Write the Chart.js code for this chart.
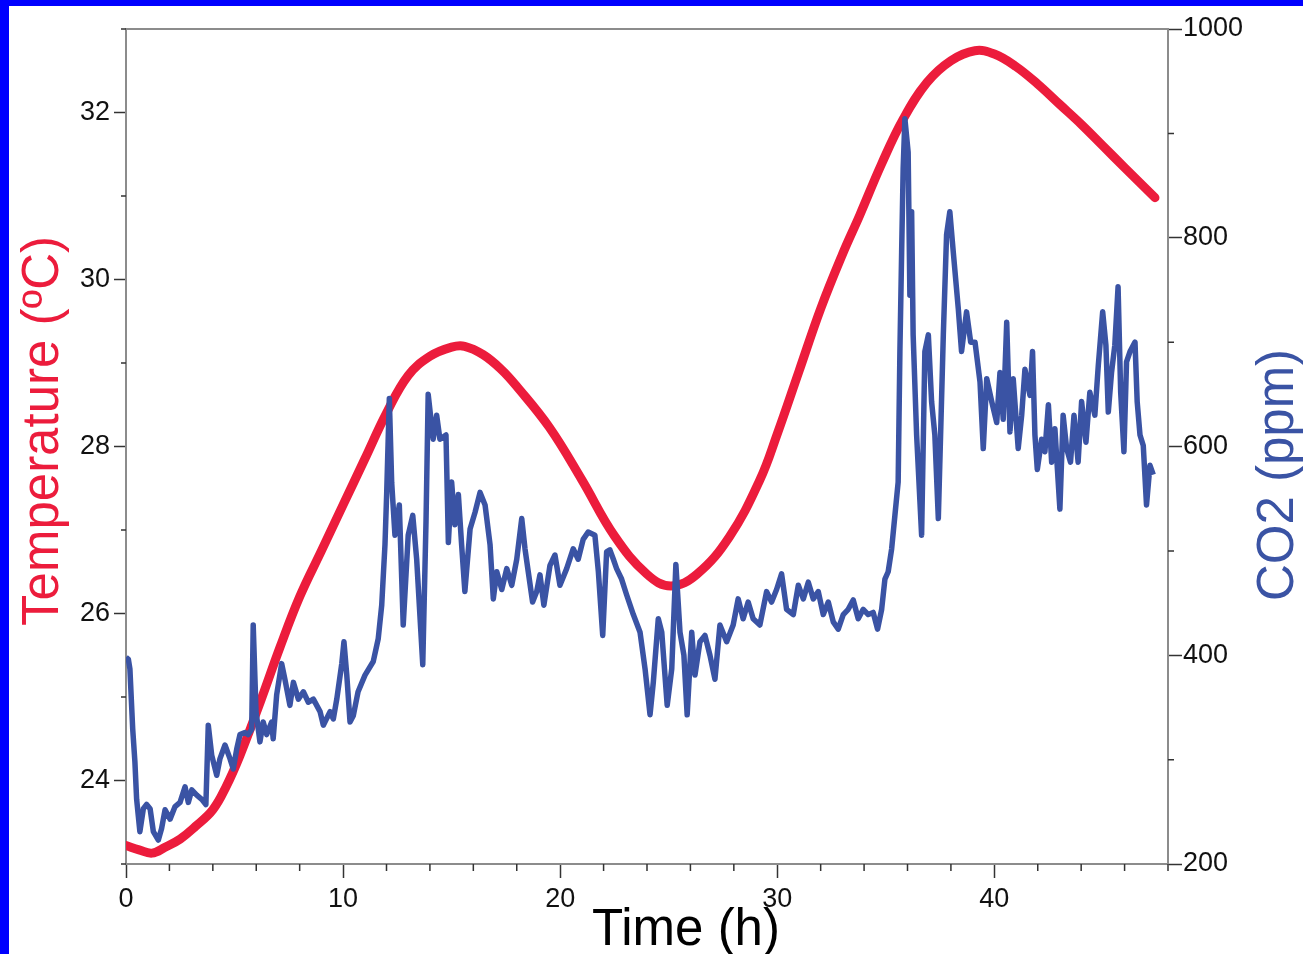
<!DOCTYPE html>
<html>
<head>
<meta charset="utf-8">
<script src="https://cdn.jsdelivr.net/npm/chart.js@4.4.0/dist/chart.umd.min.js"></script>
<style>
html, body { margin: 0; padding: 0; width: 1303px; height: 954px; overflow: hidden; background: #0000ff; }
#wrap { position: absolute; left: 9px; top: 6px; width: 1294px; height: 948px; background: #fff; }
</style>
</head>
<body>
<div id="wrap"><canvas id="chart" width="1294" height="948"></canvas></div>
<script>
// temperature curve (h, ºC)
const tempHours = [0, 0.6, 1.2, 1.8, 2.5, 3.2, 4.0, 4.6, 5.25, 6.2, 7.1, 8.0, 9.0, 10.0, 11.0, 12.0, 13.0, 14.0, 15.0,
    15.6, 16.45, 17.3, 18.0, 19.5, 21.0, 22.5, 24.0, 25.1, 26.3, 27.8, 29.2, 30.0, 31.0, 32.0, 33.0, 33.8, 34.8, 35.8,
    36.9, 38.0, 39.1, 40.0, 41.0, 42.0, 43.0, 44.0, 45.0, 46.0, 47.4];
const tempValues = [23.22, 23.17, 23.13, 23.2, 23.3, 23.45, 23.65, 23.92, 24.3, 24.95, 25.6, 26.2, 26.75, 27.3, 27.85, 28.4, 28.85, 29.08, 29.19,
    29.2, 29.1, 28.92, 28.72, 28.23, 27.6, 26.93, 26.47, 26.33, 26.47, 26.92, 27.6, 28.15, 28.9, 29.65, 30.3, 30.77, 31.38, 31.92,
    32.36, 32.62, 32.74, 32.7, 32.55, 32.34, 32.1, 31.86, 31.6, 31.34, 30.98];

// CO2 trace (h, ppm)
const co2Hours = [0, 0.11, 0.18, 0.31, 0.41, 0.49, 0.64, 0.80, 0.95, 1.11, 1.26, 1.49, 1.64, 1.80, 2.03, 2.26, 2.49, 2.72, 2.87, 3.03,
    3.26, 3.49, 3.68, 3.79, 3.95, 4.18, 4.33, 4.56, 4.79, 4.94, 5.10, 5.25, 5.48, 5.63, 5.79, 5.86, 5.99, 6.17, 6.32, 6.48,
    6.71, 6.78, 6.94, 7.17, 7.32, 7.55, 7.71, 7.94, 8.17, 8.40, 8.63, 8.94, 9.09, 9.40, 9.55, 9.71, 9.94, 10.04, 10.17, 10.32,
    10.47, 10.69, 11.01, 11.39, 11.62, 11.78, 11.93, 12.01, 12.13, 12.24, 12.39, 12.59, 12.77, 13.00, 13.21, 13.39, 13.67, 13.82, 13.92, 14.15,
    14.31, 14.46, 14.74, 14.85, 15.00, 15.15, 15.31, 15.46, 15.61, 15.85, 16.08, 16.31, 16.54, 16.77, 16.92, 17.08, 17.31, 17.54, 17.77, 18.00,
    18.23, 18.38, 18.53, 18.73, 18.92, 19.07, 19.25, 19.53, 19.76, 19.99, 20.30, 20.60, 20.83, 21.06, 21.29, 21.60, 21.76, 21.96, 22.14, 22.29,
    22.45, 22.60, 22.83, 23.06, 23.37, 23.68, 23.91, 24.14, 24.29, 24.52, 24.68, 24.93, 25.14, 25.33, 25.52, 25.70, 25.85, 26.06, 26.21, 26.44,
    26.67, 26.90, 27.13, 27.36, 27.67, 27.97, 28.20, 28.43, 28.66, 28.89, 29.20, 29.51, 29.74, 29.97, 30.20, 30.43, 30.74, 30.97, 31.20, 31.43,
    31.66, 31.89, 32.12, 32.35, 32.58, 32.81, 33.04, 33.27, 33.50, 33.73, 33.96, 34.19, 34.42, 34.62, 34.81, 34.96, 35.11, 35.27, 35.42, 35.57,
    35.65, 35.73, 35.80, 35.88, 36.03, 36.11, 36.19, 36.26, 36.42, 36.65, 36.80, 36.96, 37.11, 37.26, 37.42, 37.65, 37.80, 37.95, 38.11, 38.34,
    38.49, 38.72, 38.91, 39.11, 39.34, 39.49, 39.65, 39.88, 40.11, 40.26, 40.41, 40.57, 40.72, 40.87, 41.10, 41.26, 41.41, 41.64, 41.76, 41.87,
    41.98, 42.18, 42.33, 42.49, 42.64, 42.79, 43.02, 43.17, 43.33, 43.51, 43.67, 43.86, 44.02, 44.22, 44.40, 44.63, 44.79, 44.99, 45.14, 45.25,
    45.40, 45.55, 45.70, 45.82, 45.97, 46.09, 46.25, 46.48, 46.58, 46.71, 46.86, 47.01, 47.17, 47.32];
const co2Values = [398, 396, 387, 329, 298, 262, 231, 253, 257, 253, 231, 223, 234, 252, 243, 255, 259, 274, 259, 271,
    266, 262, 257, 333, 304, 285, 301, 314, 301, 291, 310, 324, 326, 324, 329, 429, 346, 317, 336, 324,
    336, 320, 362, 392, 377, 352, 374, 358, 365, 355, 358, 346, 333, 346, 339, 358, 392, 413, 381, 336,
    342, 365, 381, 394, 416, 448, 506, 556, 646, 565, 515, 544, 429, 515, 534, 492, 391, 528, 650, 607,
    630, 607, 611, 508, 566, 525, 554, 506, 461, 521, 537, 556, 544, 506, 454, 480, 463, 483, 467, 492,
    531, 502, 480, 451, 461, 477, 448, 486, 496, 467, 483, 502, 492, 511, 518, 515, 480, 419, 499, 501,
    492, 483, 473, 458, 439, 422, 387, 343, 374, 435, 422, 352, 387, 487, 422, 400, 343, 422, 381, 413,
    419, 400, 377, 429, 413, 429, 454, 435, 451, 435, 429, 461, 451, 463, 478, 444, 439, 467, 454, 470,
    454, 461, 439, 451, 432, 425, 439, 444, 453, 435, 444, 439, 441, 425, 444, 473, 480, 502, 534, 566,
    691, 786, 866, 914, 882, 745, 825, 707, 611, 515, 691, 707, 643, 611, 531, 707, 803, 825, 786, 732,
    691, 729, 700, 700, 662, 598, 665, 643, 623, 671, 626, 719, 614, 665, 598, 630, 674, 649, 691, 611,
    578, 607, 595, 640, 585, 617, 540, 630, 598, 585, 630, 585, 643, 604, 652, 630, 678, 729, 697, 633,
    671, 697, 753, 652, 595, 681, 691, 700, 643, 611, 601, 544, 582, 573];

// labelled ticks
const timeLabels = [0, 10, 20, 30, 40];
const tempLabels = [24, 26, 28, 30, 32];
const co2Labels = [200, 400, 600, 800, 1000];

const RED = '#ec1c3c';
const BLUE = '#3a53a4';
const AXIS = '#8c8c8c';
const TICK = '#333';
const FONT = "'Liberation Sans', Arial, sans-serif";

function toPoints(xs, ys) {
    return xs.map((x, i) => ({ x: x, y: ys[i] }));
}

// short ticks for the unlabelled values, top frame line, axis titles
const extras = {
    id: 'extras',
    afterDraw(chart) {
        const ctx = chart.ctx;
        const area = chart.chartArea;
        const sx = chart.scales.x, yl = chart.scales.yTemp, yr = chart.scales.yCo2;
        ctx.save();
        ctx.strokeStyle = TICK;
        ctx.lineWidth = 1.5;
        ctx.beginPath();
        sx.ticks.forEach(t => {
            if (timeLabels.includes(t.value)) return;
            const p = sx.getPixelForValue(t.value);
            ctx.moveTo(p, area.bottom); ctx.lineTo(p, area.bottom + 7);
        });
        yl.ticks.forEach(t => {
            if (tempLabels.includes(t.value)) return;
            const p = yl.getPixelForValue(t.value);
            ctx.moveTo(area.left, p); ctx.lineTo(area.left - 5, p);
        });
        yr.ticks.forEach(t => {
            if (co2Labels.includes(t.value)) return;
            const p = yr.getPixelForValue(t.value);
            ctx.moveTo(area.right, p); ctx.lineTo(area.right + 6, p);
        });
        ctx.stroke();

        ctx.strokeStyle = AXIS;
        ctx.lineWidth = 2;
        ctx.beginPath();
        ctx.moveTo(area.left, area.top); ctx.lineTo(area.right, area.top);
        ctx.stroke();

        ctx.font = '51px ' + FONT;
        ctx.textAlign = 'center';
        ctx.textBaseline = 'alphabetic';

        ctx.fillStyle = '#000';
        ctx.fillText('Time (h)', 677, 939);

        ctx.save();
        ctx.translate(49, 425);
        ctx.rotate(-Math.PI / 2);
        ctx.fillStyle = RED;
        ctx.fillText('Temperature (ºC)', 0, 0);
        ctx.restore();

        ctx.save();
        ctx.translate(1284, 469);
        ctx.rotate(-Math.PI / 2);
        ctx.fillStyle = BLUE;
        ctx.fillText('CO2 (ppm)', 0, 0);
        ctx.restore();

        ctx.restore();
    }
};

const ctx = document.getElementById('chart').getContext('2d');

const chart = new Chart(ctx, {
    type: 'line',
    data: {
        datasets: [{
            label: 'CO2 (ppm)',
            data: toPoints(co2Hours, co2Values),
            yAxisID: 'yCo2',
            borderColor: BLUE,
            borderWidth: 5.5,
            pointRadius: 0,
            tension: 0,
            borderJoinStyle: 'round',
            order: 0
        }, {
            label: 'Temperature (ºC)',
            data: toPoints(tempHours, tempValues),
            yAxisID: 'yTemp',
            borderColor: RED,
            borderWidth: 9,
            pointRadius: 0,
            tension: 0.4,
            borderCapStyle: 'round',
            order: 1
        }]
    },
    options: {
        responsive: false,
        devicePixelRatio: 1,
        animation: false,
        layout: { padding: { top: 23, left: 0, right: 0, bottom: 0 } },
        plugins: { legend: { display: false }, tooltip: { enabled: false } },
        scales: {
            x: {
                type: 'linear',
                position: 'bottom',
                min: 0,
                max: 48,
                afterFit(scale) { scale.height = 90; },
                border: { display: true, color: AXIS, width: 2 },
                grid: {
                    drawOnChartArea: false,
                    tickLength: 14,
                    tickWidth: 1.5,
                    tickColor: c => timeLabels.includes(c.tick.value) ? TICK : 'rgba(0,0,0,0)'
                },
                ticks: {
                    stepSize: 2,
                    autoSkip: false,
                    maxRotation: 0,
                    padding: 5,
                    color: '#111',
                    font: { family: FONT, size: 27 },
                    callback: v => timeLabels.includes(v) ? String(v) : ''
                }
            },
            yTemp: {
                type: 'linear',
                position: 'left',
                min: 23,
                max: 33,
                afterFit(scale) { scale.width = 117; },
                border: { display: true, color: AXIS, width: 2 },
                grid: {
                    drawOnChartArea: false,
                    tickLength: 12,
                    tickWidth: 1.5,
                    tickColor: c => tempLabels.includes(c.tick.value) ? TICK : 'rgba(0,0,0,0)'
                },
                ticks: {
                    stepSize: 1,
                    autoSkip: false,
                    padding: 4,
                    color: '#111',
                    font: { family: FONT, size: 27 },
                    callback: v => tempLabels.includes(v) ? String(v) : ''
                }
            },
            yCo2: {
                type: 'linear',
                position: 'right',
                min: 200,
                max: 1000,
                afterFit(scale) { scale.width = 135; },
                border: { display: true, color: AXIS, width: 2 },
                grid: {
                    drawOnChartArea: false,
                    tickLength: 14,
                    tickWidth: 1.5,
                    tickColor: c => co2Labels.includes(c.tick.value) ? TICK : 'rgba(0,0,0,0)'
                },
                ticks: {
                    stepSize: 100,
                    autoSkip: false,
                    padding: 1,
                    color: '#111',
                    font: { family: FONT, size: 27 },
                    callback: v => co2Labels.includes(v) ? String(v) : ''
                }
            }
        }
    },
    plugins: [extras]
});
</script>
</body>
</html>
